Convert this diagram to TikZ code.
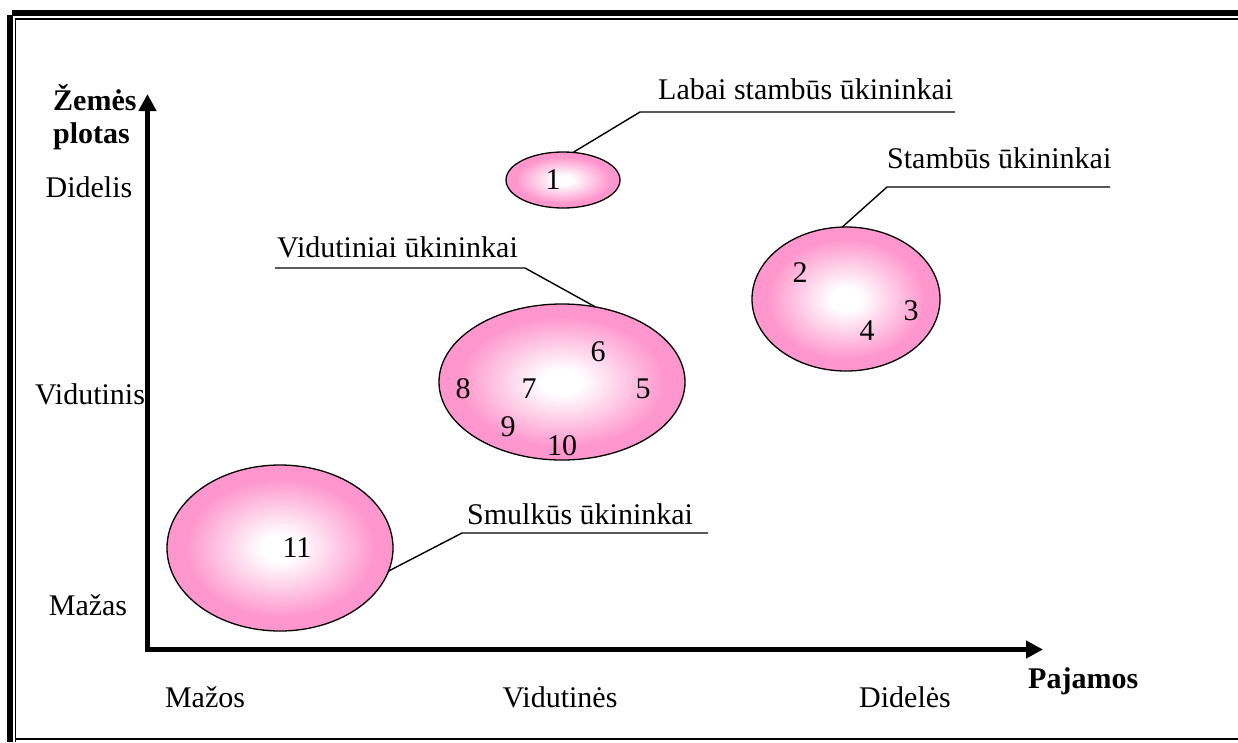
\documentclass[tikz,border=0pt]{standalone}
\usepackage{fontspec}
\setmainfont{Liberation Serif}
\usetikzlibrary{shapes.geometric,arrows.meta}
\definecolor{pk}{RGB}{255,150,205}
\pgfdeclareradialshading{pinkglow}{\pgfpoint{0bp}{0bp}}{%
  color(0bp)=(white); color(4bp)=(white); color(21bp)=(pk); color(25bp)=(pk); color(50bp)=(pk)}
\tikzset{
  lbl/.style={font=\fontsize{30}{33}\selectfont, inner sep=0pt},
  bold lbl/.style={lbl, font=\fontsize{30}{33}\selectfont\bfseries},
  blob/.style={ellipse, draw=black, line width=1.3pt, shading=pinkglow, inner sep=0pt, outer sep=0pt},
  callout/.style={line width=1.4pt},
  axis/.style={line width=5pt, miter limit=10, {Triangle[length=17pt,width=17pt]}-{Triangle[length=17pt,width=17pt]}},
}
\begin{document}
\begin{tikzpicture}[x=1pt,y=-1pt]
\useasboundingbox (0,0) rectangle (1238,742);
% frame
\draw[line width=6pt] (12,13) -- (1238,13);
\draw[line width=1.5pt] (15,19) -- (1238,19);
\draw[line width=6pt] (10,15) -- (10,742);
\draw[line width=1.5pt] (15.5,18.3) -- (15.5,742);
\draw[line width=2pt] (15,739) -- (1238,739);

% axes
\coordinate (O) at (147.5,649.5);
\coordinate (ytip) at (147.5,94);
\coordinate (xtip) at (1043,649.5);
\draw[axis] (ytip) -- (O) -- (xtip);

% axis titles and scale labels
\node[bold lbl, anchor=base west] (ytitle) at (53,110) {Žemės};
\node[bold lbl, anchor=base west] (ytitle2) at (53,143) {plotas};
\node[bold lbl, anchor=base west] (xtitle) at (1028,688) {Pajamos};
\node[lbl, anchor=base] (yhi) at (89,197) {Didelis};
\node[lbl, anchor=base] (ymid) at (90,404) {Vidutinis};
\node[lbl, anchor=base] (ylo) at (88,615) {Mažas};
\node[lbl, anchor=base] (xlo) at (205,707) {Mažos};
\node[lbl, anchor=base] (xmid) at (560,707) {Vidutinės};
\node[lbl, anchor=base] (xhi) at (905,707) {Didelės};

% groups
\node[blob, minimum width=114pt, minimum height=56pt] (e1) at (563,180) {};
\node[blob, minimum width=188pt, minimum height=144pt] (e2) at (846,299) {};
\node[blob, minimum width=246pt, minimum height=156pt] (e3) at (562,382) {};
\node[blob, minimum width=226pt, minimum height=166pt] (e4) at (280,548) {};

% farm numbers
\node[lbl] (n1) at (553,180) {1};
\node[lbl] (n2) at (800,273) {2};
\node[lbl] (n3) at (911,311) {3};
\node[lbl] (n4) at (867,331) {4};
\node[lbl] (n5) at (643,389) {5};
\node[lbl] (n6) at (598,352) {6};
\node[lbl] (n7) at (529,389) {7};
\node[lbl] (n8) at (463,389) {8};
\node[lbl] (n9) at (508,427) {9};
\node[lbl] (n10) at (562,446) {10};
\node[lbl] (n11) at (297,548) {11};

% callouts
\coordinate (k1) at (640,112);
\coordinate (k1e) at (955,112);
\draw[callout] (e1.70) -- (k1) -- (k1e);
\node[lbl, anchor=base west] (t1) at (658,99) {Labai stambūs ūkininkai};

\coordinate (k2) at (887,187);
\coordinate (k2e) at (1110,187);
\draw[callout] (e2.93) -- (k2) -- (k2e);
\node[lbl, anchor=base west] (t2) at (887,168) {Stambūs ūkininkai};

\coordinate (k3) at (525,268);
\coordinate (k3s) at (275,268);
\draw[callout] (e3.66) -- (k3) -- (k3s);
\node[lbl, anchor=base west] (t3) at (277,257) {Vidutiniai ūkininkai};

\coordinate (k4) at (462,533);
\coordinate (k4e) at (708,533);
\draw[callout] (e4.-12) -- (k4) -- (k4e);
\node[lbl, anchor=base west] (t4) at (467,524) {Smulkūs ūkininkai};
\end{tikzpicture}
\end{document}
